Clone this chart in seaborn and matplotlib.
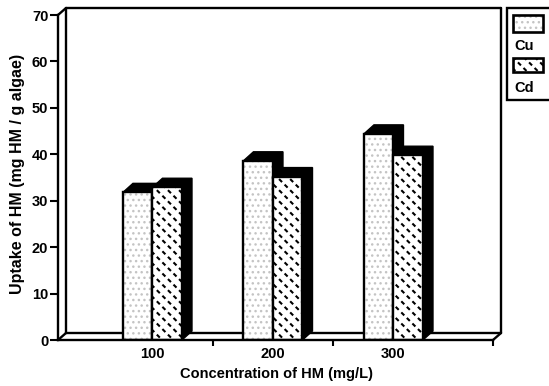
import matplotlib
matplotlib.use("Agg")
import matplotlib.pyplot as plt
from matplotlib.patches import Rectangle, Polygon
import numpy as np
import pandas as pd
import seaborn as sns

# Metal uptake by the algae at three initial concentrations
concentrations = ["100", "200", "300"]
cu_uptake = [31.8, 38.6, 44.4]
cd_uptake = [32.9, 35.2, 39.8]
metals = ["Cu", "Cd"]
y_ticks = [0, 10, 20, 30, 40, 50, 60, 70]

sns.set_theme(style="ticks")
plt.rcParams["font.family"] = ["Liberation Sans", "DejaVu Sans"]
plt.rcParams["font.weight"] = "bold"
plt.rcParams["text.color"] = "black"
plt.rcParams["axes.labelcolor"] = "black"
plt.rcParams["xtick.color"] = "black"
plt.rcParams["ytick.color"] = "black"
plt.rcParams["hatch.linewidth"] = 1.4

STIPPLE = "#c4c4c4"


def hatched(xy, w, h, hatch, color, lw_hatch, z, **kw):
    """Unfilled rectangle carrying only a hatch pattern."""
    r = Rectangle(xy, w, h, facecolor="none", edgecolor=color, lw=0,
                  hatch=hatch, zorder=z, **kw)
    if hasattr(r, "set_hatch_linewidth"):
        r.set_hatch_linewidth(lw_hatch)
    return r


def weave(xy, w, h, z, **kw):
    """Short diagonal dashes: black '\\' lines broken by white '/' lines."""
    return [hatched(xy, w, h, "\\\\\\", "black", 1.5, z, **kw),
            hatched(xy, w, h, "///", "white", 2.6, z + 0.05, **kw)]


W, H = 549, 386
fig = plt.figure(figsize=(W / 100, H / 100), dpi=100)
fig.patch.set_facecolor("white")
ax = fig.add_axes([58 / W, 1 - 340 / H, 435 / W, 325 / H])
ax.set_facecolor("none")

df = pd.DataFrame({
    "conc": concentrations * 2,
    "uptake": cu_uptake + cd_uptake,
    "metal": [metals[0]] * 3 + [metals[1]] * 3,
})
sns.barplot(data=df, x="conc", y="uptake", hue="metal", hue_order=metals,
            palette=["white", "white"], width=0.49, saturation=1,
            edgecolor="black", linewidth=1.6, errorbar=None, legend=False, ax=ax)

XMIN, XMAX = -0.784, 2.826
YMAX = 70
ax.set_xlim(XMIN, XMAX)
ax.set_ylim(0, YMAX)

# pixel -> data conversion (fixed axes geometry)
sx = (XMAX - XMIN) / 435.0
sy = YMAX / 325.0

# --- back wall and floor (3-D box) ---
wdx, wdy = 8 * sx, 7 * sy
line_kw = dict(color="black", lw=1.7, clip_on=False, zorder=1, solid_capstyle="round")
ax.plot([XMIN + wdx, XMIN + wdx], [wdy, YMAX + wdy], **line_kw)
ax.plot([XMIN + wdx, XMAX + wdx], [YMAX + wdy, YMAX + wdy], **line_kw)
ax.plot([XMAX + wdx, XMAX + wdx], [YMAX + wdy, wdy], **line_kw)
ax.plot([XMIN + wdx, XMAX + wdx], [wdy, wdy], **line_kw)
for cx, cy in [(XMIN, YMAX), (XMIN, 0), (XMAX, 0)]:
    ax.plot([cx, cx + wdx], [cy, cy + wdy], **line_kw)

# --- 3-D bars: black extrusion, patterned front face ---
bdx, bdy = 10 * sx, 9 * sy
base_z = 2
for i, container in enumerate(ax.containers):
    for patch in container:
        x0, w, h = patch.get_x(), patch.get_width(), patch.get_height()
        x1 = x0 + w
        z = base_z + i * 2
        ext = Polygon([(x0, h), (x0 + bdx, h + bdy), (x1 + bdx, h + bdy),
                       (x1 + bdx, bdy), (x1, 0), (x1, h)],
                      closed=True, facecolor="black", edgecolor="black",
                      lw=1.0, zorder=z)
        ax.add_patch(ext)
        patch.set_zorder(z + 0.5)
        patch.set_edgecolor("none")
        if i == 0:
            ax.add_patch(hatched((x0, 0), w, h, "...", STIPPLE, 1.0, z + 0.6))
        else:
            for p in weave((x0, 0), w, h, z + 0.6):
                ax.add_patch(p)
        ax.add_patch(Rectangle((x0, 0), w, h, facecolor="none",
                               edgecolor="black", lw=1.7, zorder=z + 0.8))

# --- axes styling ---
for side in ["top", "right"]:
    ax.spines[side].set_visible(False)
for side in ["left", "bottom"]:
    ax.spines[side].set_linewidth(1.7)
    ax.spines[side].set_color("black")
    ax.spines[side].set_zorder(10)

ax.set_yticks(y_ticks)
ax.set_yticklabels([str(t) for t in y_ticks])
ax.set_xticks(range(len(concentrations)))
ax.set_xticklabels(concentrations)
ax.set_xticks([0.5, 1.5, XMAX], minor=True)
ax.tick_params(axis="y", which="major", left=True, direction="out", length=6,
               width=1.5, pad=1, labelsize=10.5, colors="black")
ax.tick_params(axis="x", which="major", bottom=True, length=0, pad=5,
               labelsize=10.5, colors="black")
ax.tick_params(axis="x", which="minor", bottom=True, direction="out",
               length=4, width=1.5, colors="black")
for lab in ax.get_xticklabels() + ax.get_yticklabels():
    lab.set_fontweight("bold")
ax.set_xlabel("")
ax.set_ylabel("")

fig.text(18 / W, 1 - 174 / H, "Uptake of HM (mg HM / g algae)", rotation=90,
         ha="center", va="center", fontsize=11.5, fontweight="bold")
fig.text(276 / W, 1 - 374 / H, "Concentration of HM (mg/L)",
         ha="center", va="center", fontsize=10.5, fontweight="bold")

# --- legend panel ---
def fr(x, y):
    return x / W, 1 - y / H

lx, ly = fr(507, 100)
fig.patches.append(Rectangle((lx, ly), 60 / W, 92 / H, transform=fig.transFigure,
                             facecolor="white", edgecolor="black", lw=1.7,
                             zorder=5))
sw_x = 513
for name, top, bot, lab_y in [(metals[0], 15, 32, 46), (metals[1], 58, 72, 88)]:
    sx0, sy0 = fr(sw_x, bot)
    sw_w, sw_h = 30 / W, (bot - top) / H
    fkw = dict(transform=fig.transFigure)
    fig.patches.append(Rectangle((sx0, sy0), sw_w, sw_h, facecolor="white",
                                 edgecolor="none", zorder=6, **fkw))
    if name == metals[0]:
        fig.patches.append(hatched((sx0, sy0), sw_w, sw_h, "...", STIPPLE, 1.0,
                                   6.1, **fkw))
    else:
        fig.patches.extend(weave((sx0, sy0), sw_w, sw_h, 6.1, **fkw))
    fig.patches.append(Rectangle((sx0, sy0), sw_w, sw_h, facecolor="none",
                                 edgecolor="black", lw=1.9, zorder=6.3, **fkw))
    tx, ty = fr(sw_x + 1, lab_y)
    fig.text(tx, ty, name, ha="left", va="center", fontsize=10.5,
             fontweight="bold", zorder=7)

fig.savefig("out.png", dpi=100, facecolor="white")
